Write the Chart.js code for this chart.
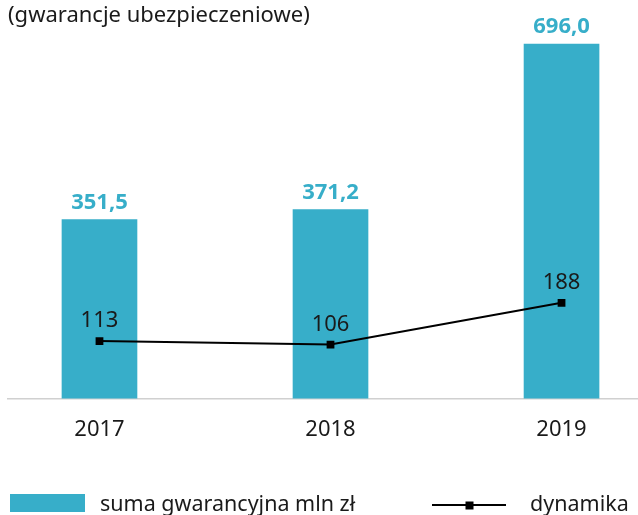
<!DOCTYPE html>
<html>
<head>
<meta charset="utf-8">
<script src="https://cdn.jsdelivr.net/npm/chart.js@4/dist/chart.umd.min.js"></script>
<style>
    html, body { margin: 0; padding: 0; background: #fff; overflow: hidden; }
    #wrap { width: 638px; height: 515px; }
</style>
</head>
<body>
<div id="wrap"><canvas id="chart"></canvas></div>
<script>
// Data
const categories = ['2017', '2018', '2019'];
const sumaValues = [351.5, 371.2, 696.0];
const dynamikaValues = [113, 106, 188];

const TEAL = '#37aec9';
const DARK = '#1a1a1a';
const FONT = "'Noto Sans', sans-serif";

function fmtPL(v, digits) {
    return v.toFixed(digits).replace('.', ',');
}

// value labels above bars / points
const valueLabels = {
    id: 'valueLabels',
    afterDatasetsDraw(chart) {
        const ctx = chart.ctx;
        ctx.save();
        ctx.textAlign = 'center';
        ctx.textBaseline = 'alphabetic';
        chart.data.datasets.forEach((ds, di) => {
            const meta = chart.getDatasetMeta(di);
            meta.data.forEach((el, i) => {
                const v = ds.data[i].y;
                if (ds.type === 'bar') {
                    ctx.font = `bold 22px ${FONT}`;
                    ctx.fillStyle = TEAL;
                    ctx.fillText(fmtPL(v, 1), el.x, el.y - 11);
                } else {
                    ctx.font = `22px ${FONT}`;
                    ctx.fillStyle = DARK;
                    ctx.fillText(String(v), el.x, el.y - 14);
                }
            });
        });
        ctx.restore();
    }
};

// legend drawn at the bottom
const bottomLegend = {
    id: 'bottomLegend',
    afterDraw(chart) {
        const ctx = chart.ctx;
        const bar = chart.data.datasets.find(d => d.type === 'bar');
        const line = chart.data.datasets.find(d => d.type === 'line');
        ctx.save();
        ctx.font = `21.5px ${FONT}`;
        ctx.textBaseline = 'alphabetic';
        ctx.textAlign = 'left';

        // bar item
        ctx.fillStyle = bar.backgroundColor;
        ctx.fillRect(10, 494, 75, 18);
        ctx.fillStyle = DARK;
        ctx.fillText(bar.label, 100, 511);

        // line item
        ctx.strokeStyle = line.borderColor;
        ctx.lineWidth = 2;
        ctx.beginPath();
        ctx.moveTo(432, 505);
        ctx.lineTo(506, 505);
        ctx.stroke();
        ctx.fillStyle = line.pointBackgroundColor;
        ctx.fillRect(465.5, 501.5, 8, 8);
        ctx.fillStyle = DARK;
        ctx.fillText(line.label, 530, 511);
        ctx.restore();
    }
};

const ctx = document.getElementById('chart').getContext('2d');
new Chart(ctx, {
    type: 'bar',
    data: {
        datasets: [
            {
                type: 'line',
                label: 'dynamika',
                data: dynamikaValues.map((v, i) => ({ x: i, y: v })),
                borderColor: '#000',
                borderWidth: 2,
                pointStyle: 'rect',
                pointRadius: 5.5,
                pointBackgroundColor: '#000',
                pointBorderWidth: 0,
                tension: 0,
                order: 0
            },
            {
                type: 'bar',
                label: 'suma gwarancyjna mln zł',
                data: sumaValues.map((v, i) => ({ x: i, y: v })),
                backgroundColor: TEAL,
                barThickness: 75,
                order: 1
            }
        ]
    },
    options: {
        responsive: true,
        maintainAspectRatio: false,
        animation: false,
        layout: {
            autoPadding: false,
            padding: { left: 8, right: 0, top: 0, bottom: 54 }
        },
        plugins: {
            legend: { display: false },
            tooltip: { enabled: false },
            title: {
                display: true,
                text: '(gwarancje ubezpieczeniowe)',
                align: 'start',
                color: DARK,
                font: { family: FONT, size: 22, weight: 'normal' },
                padding: { top: 3, bottom: 7 }
            }
        },
        scales: {
            x: {
                type: 'linear',
                offset: false,
                min: -0.396,
                max: 2.331,
                grid: { display: false, drawTicks: false },
                border: { display: true, color: '#d0d0d0', width: 1.5 },
                afterBuildTicks: (scale) => {
                    scale.ticks = categories.map((c, i) => ({ value: i }));
                },
                ticks: {
                    autoSkip: false,
                    maxRotation: 0,
                    padding: 18,
                    color: DARK,
                    font: { family: FONT, size: 22 },
                    callback: (v) => categories[v]
                }
            },
            y: {
                display: false,
                min: 0,
                max: 711
            }
        }
    },
    plugins: [valueLabels, bottomLegend]
});
</script>
</body>
</html>
